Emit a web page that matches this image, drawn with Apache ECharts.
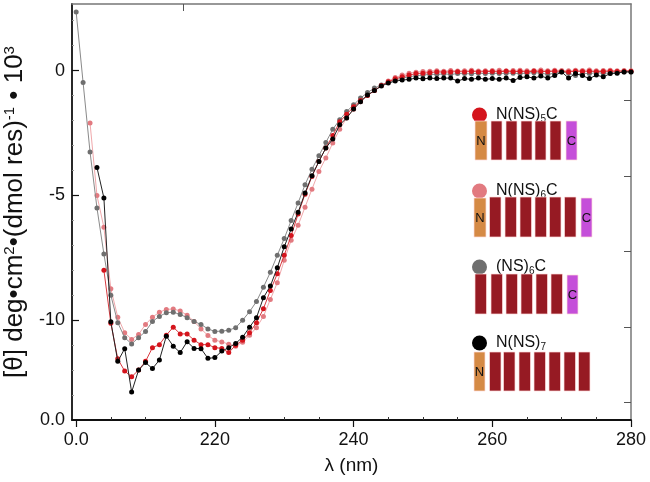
<!DOCTYPE html>
<html><head><meta charset="utf-8">
<script src="https://cdn.jsdelivr.net/npm/echarts@6/dist/echarts.min.js"></script>
<style>html,body{margin:0;padding:0;background:#fff}#c{width:650px;height:482px}</style>
</head><body><div id="c"></div>
<script>
const wavelengths = [200,201,202,203,204,205,206,207,208,209,210,211,212,213,214,215,216,217,218,219,220,221,222,223,224,225,226,227,228,229,230,231,232,233,234,235,236,237,238,239,240,241,242,243,244,245,246,247,248,249,250,251,252,253,254,255,256,257,258,259,260,261,262,263,264,265,266,267,268,269,270,271,272,273,274,275,276,277,278,279,280];

const nns5c = [null,null,null,null,-8.0,-10.12,-11.55,-12.04,-12.27,-12.0,-11.65,-11.1,-10.98,-10.6,-10.28,-10.55,-10.55,-10.8,-10.98,-10.98,-11.1,-11.13,-11.3,-11.0,-10.8,-10.5,-10.1,-9.54,-8.81,-8.14,-7.4,-6.61,-5.75,-4.95,-4.24,-3.64,-3.1,-2.6,-2.05,-1.75,-1.45,-1.2,-1.0,-0.8,-0.6,-0.45,-0.33,-0.25,-0.18,-0.12,-0.1,-0.08,-0.05,-0.06,-0.05,-0.04,-0.05,-0.03,-0.05,-0.04,-0.03,-0.05,-0.02,-0.04,-0.03,-0.05,-0.02,-0.03,-0.04,-0.02,-0.03,-0.05,-0.02,-0.03,-0.02,-0.04,-0.03,-0.02,-0.03,-0.02,-0.02];

const nns6c = [null,null,-2.1,-5.0,-6.28,-8.74,-9.88,-10.5,-10.77,-10.57,-10.17,-9.88,-9.68,-9.57,-9.55,-9.63,-9.8,-10.05,-10.35,-10.61,-10.8,-10.87,-10.96,-11.04,-10.88,-10.6,-10.3,-9.85,-9.17,-8.5,-7.6,-6.8,-6.2,-5.47,-4.75,-4.04,-3.5,-2.9,-2.35,-1.9,-1.55,-1.25,-1.0,-0.8,-0.6,-0.42,-0.28,-0.18,-0.1,-0.06,-0.03,-0.02,0.0,-0.02,0.01,-0.01,0.0,0.02,-0.01,0.0,0.01,0.02,0.0,0.01,0.02,0.0,0.01,0.03,0.0,0.02,0.01,0.0,0.02,0.01,0.03,0.0,0.01,0.02,0.0,0.01,0.0];

const ns6c = [2.35,-0.48,-3.26,-5.5,-7.35,-9.0,-10.1,-10.7,-10.95,-10.7,-10.45,-10.05,-9.85,-9.7,-9.68,-9.77,-9.9,-10.05,-10.17,-10.35,-10.45,-10.44,-10.4,-10.3,-10.0,-9.66,-9.25,-8.68,-8.08,-7.4,-6.73,-6.01,-5.3,-4.57,-3.95,-3.41,-2.88,-2.35,-1.97,-1.64,-1.37,-1.1,-0.88,-0.7,-0.58,-0.47,-0.37,-0.3,-0.25,-0.2,-0.18,-0.15,-0.15,-0.13,-0.15,-0.12,-0.12,-0.13,-0.1,-0.12,-0.1,-0.12,-0.1,-0.1,-0.12,-0.1,-0.08,-0.1,-0.15,-0.1,-0.05,-0.1,-0.2,-0.1,-0.12,-0.08,-0.1,-0.1,-0.08,-0.05,-0.05];

const nns7 = [null,null,null,-3.88,-5.1,-10.06,-11.65,-11.14,-12.88,-12.0,-11.7,-11.94,-11.6,-10.64,-11.04,-11.3,-10.86,-11.13,-11.14,-11.53,-11.5,-11.24,-11.1,-10.93,-10.68,-10.28,-9.9,-9.1,-8.63,-7.9,-7.06,-6.35,-5.68,-4.9,-4.21,-3.64,-3.1,-2.74,-2.17,-1.9,-1.54,-1.25,-0.98,-0.8,-0.62,-0.5,-0.42,-0.38,-0.35,-0.3,-0.33,-0.3,-0.32,-0.3,-0.3,-0.42,-0.32,-0.35,-0.3,-0.35,-0.32,-0.35,-0.3,-0.4,-0.28,-0.25,-0.3,-0.22,-0.3,-0.2,-0.05,-0.3,-0.12,-0.2,-0.32,-0.18,-0.25,-0.12,-0.1,-0.05,-0.05];

const seriesNames = ['N(NS)5C','N(NS)6C','(NS)6C','N(NS)7'];
const legendLabels = ['N(NS){sub|5}C','N(NS){sub|6}C','(NS){sub|6}C','N(NS){sub|7}'];
const xTickValues = [200,220,240,260,280];
const xTickLabels = ['0.0','220','240','260','280'];
const xMinorTicks = [205,210,215,225,230,235,245,250,255,265,270,275];
const yTickValues = [-14,-10,-5,0];
const yTickLabels = ['0.0','-10','-5','0'];
const yMinorTicks = [-13,-12,-11,-9,-8,-7,-6,-4,-3,-2,-1,1,2];
const rightTicks = [-1.17,-4.22,-7.25,-10.3,-13.3];
const topTicks = [215.5];

const FONT = "'Liberation Sans', Arial, Helvetica, sans-serif";
const pairs = arr => wavelengths.map((w,i)=>[w,arr[i]]).filter(p=>p[1]!==null);

const seriesStyle = [
  {data:nns6c, name:seriesNames[1], color:'#e27a80', line:'#f0a8ab', z:2},
  {data:ns6c,  name:seriesNames[2], color:'#6f6f6f', line:'#8a8a8a', z:3},
  {data:nns5c, name:seriesNames[0], color:'#d4141c', line:'#d83a40', z:4},
  {data:nns7,  name:seriesNames[3], color:'#000000', line:'#222222', z:5}
];

const ORANGE='#d58a45', DRED='#961a23', PURPLE='#c54fd9';
function blk(x,y,w,h,fill){return {type:'rect',shape:{x:x,y:y,width:w,height:h},style:{fill:fill,stroke:'rgba(255,220,220,0.7)',lineWidth:1},z:10};}
function lbl(x,y,t){return {type:'text',x:x,y:y,style:{text:t,font:"13px "+FONT,fill:'#111',align:'center',verticalAlign:'middle'},z:11};}
const g = [];
g.push(blk(475,121,12,39,ORANGE)); g.push(lbl(481,141,'N'));
[491,506,521,535,550].forEach(x=>g.push(blk(x,121,11,39,DRED)));
g.push(blk(566,121,11,39,PURPLE)); g.push(lbl(571.5,141,'C'));
g.push(blk(474,198,12,39,ORANGE)); g.push(lbl(480,218,'N'));
[489.5,505,520,535,549.5,564.5].forEach(x=>g.push(blk(x,197,11.5,40,DRED)));
g.push(blk(581,198,11,39,PURPLE)); g.push(lbl(586.5,218,'C'));
[475,491,506,521,536,551].forEach(x=>g.push(blk(x,274,11.5,40,DRED)));
g.push(blk(567,275,11,39,PURPLE)); g.push(lbl(572.5,295,'C'));
g.push(blk(474,352,11,39,ORANGE)); g.push(lbl(479.5,372,'N'));
[489.5,503.5,519,534,549,564,578.5].forEach(x=>g.push(blk(x,352,11.5,39,DRED)));

const chart = echarts.init(document.getElementById('c'), null, {renderer:'canvas'});
chart.setOption({
  animation:false,
  backgroundColor:'#fff',
  textStyle:{fontFamily:FONT},
  grid:{left:72,right:19,top:4,bottom:62,containLabel:false,outerBoundsMode:'none'},
  legend:{
    orient:'vertical', left:467, top:101, icon:'circle', itemWidth:15, itemHeight:15, itemGap:58,
    data:seriesNames,
    formatter:n=>legendLabels[seriesNames.indexOf(n)],
    textStyle:{fontFamily:FONT,fontSize:16,color:'#111',lineHeight:18,padding:[0,0,0,4],
      rich:{sub:{fontFamily:FONT,fontSize:10,lineHeight:10,verticalAlign:'bottom'}}},
    selectedMode:false
  },
  xAxis:[
    {type:'value',min:199.4,max:280,position:'bottom',
     name:'λ (nm)',nameLocation:'middle',nameGap:36,nameTextStyle:{fontFamily:FONT,fontSize:19,color:'#111'},
     axisLine:{onZero:false,lineStyle:{color:'#111',width:1.8}},
     axisTick:{show:true,customValues:xTickValues,length:7,inside:false,lineStyle:{color:'#111',width:1.2}},
     axisLabel:{customValues:xTickValues,formatter:v=>xTickLabels[xTickValues.indexOf(v)],fontFamily:FONT,fontSize:18,color:'#111',margin:11},
     splitLine:{show:false}},
    {type:'value',min:199.4,max:280,position:'bottom',
     axisLine:{show:false,onZero:false},
     axisTick:{show:true,customValues:xMinorTicks,length:3,inside:true,lineStyle:{color:'#333',width:1}},
     axisLabel:{show:false},splitLine:{show:false}},
    {type:'value',min:199.4,max:280,position:'top',
     axisLine:{onZero:false,lineStyle:{color:'#777',width:1.5}},
     axisTick:{show:true,customValues:topTicks,length:7,inside:true,lineStyle:{color:'#555',width:1}},
     axisLabel:{show:false},splitLine:{show:false}}
  ],
  yAxis:[
    {type:'value',min:-14,max:2.67,position:'left',
     name:'[θ] deg•cm{sup|2}•(dmol res){sup|-1} • 10{sup|3}',nameLocation:'middle',nameGap:37,
     nameTextStyle:{fontFamily:FONT,fontSize:26,color:'#111',
       rich:{sup:{fontFamily:FONT,fontSize:15,verticalAlign:'top',padding:[0,0,10,0]}}},
     axisLine:{onZero:false,lineStyle:{color:'#111',width:1.8}},
     axisTick:{show:true,customValues:[-10,-5,0],length:7,inside:true,lineStyle:{color:'#111',width:1.2}},
     axisLabel:{customValues:yTickValues,formatter:v=>yTickLabels[yTickValues.indexOf(v)],fontFamily:FONT,fontSize:18,color:'#111',margin:7},
     splitLine:{show:false}},
    {type:'value',min:-14,max:2.67,position:'left',
     axisLine:{show:false,onZero:false},
     axisTick:{show:true,customValues:yMinorTicks,length:2,inside:true,lineStyle:{color:'#999',width:1}},
     axisLabel:{show:false},splitLine:{show:false}},
    {type:'value',min:-14,max:2.67,position:'right',
     axisLine:{onZero:false,lineStyle:{color:'#777',width:1.5}},
     axisTick:{show:true,customValues:rightTicks,length:7,inside:true,lineStyle:{color:'#555',width:1}},
     axisLabel:{show:false},splitLine:{show:false}}
  ],
  graphic:g,
  series:seriesStyle.map(s=>({
    type:'line',name:s.name,xAxisIndex:0,yAxisIndex:0,data:pairs(s.data),
    symbol:'circle',symbolSize:5,showSymbol:true,z:s.z,
    itemStyle:{color:s.color},lineStyle:{color:s.line,width:1},
    emphasis:{disabled:true}
  }))
});
</script></body></html>
